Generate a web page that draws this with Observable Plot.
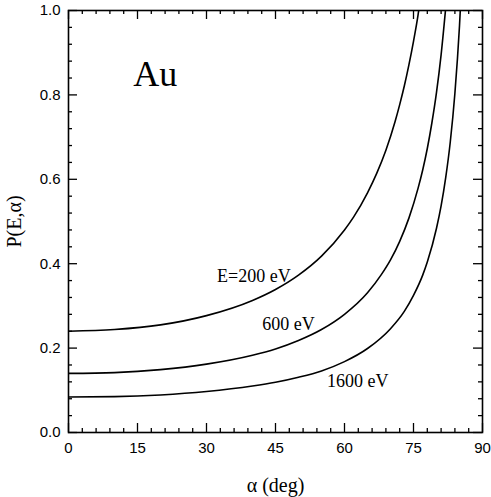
<!DOCTYPE html>
<html>
<head>
<meta charset="utf-8">
<script src="https://cdn.jsdelivr.net/npm/d3@7"></script>
<script src="https://cdn.jsdelivr.net/npm/@observablehq/plot@0.6"></script>
<style>
  html, body { margin: 0; padding: 0; background: #fff; }
  #chart svg { display: block; }
</style>
</head>
<body>
<div id="chart"></div>
<script>
// Data
const angles200 = [0, 10, 20, 30, 40, 45, 50, 55, 60, 62, 65, 67, 69, 71, 72, 73, 74, 75, 76, 76.5];
const p200 = [0.24, 0.244, 0.255, 0.277, 0.313, 0.339, 0.373, 0.418, 0.48, 0.511, 0.568, 0.614, 0.669, 0.737, 0.777, 0.821, 0.871, 0.927, 0.99, 1.03];

const angles600 = [0, 10, 20, 30, 40, 45, 50, 55, 60, 65, 68, 70, 72, 74, 76, 77, 78, 79, 80, 81, 82];
const p600 = [0.14, 0.142, 0.149, 0.162, 0.183, 0.198, 0.218, 0.244, 0.28, 0.331, 0.374, 0.409, 0.453, 0.508, 0.579, 0.622, 0.673, 0.734, 0.806, 0.895, 1.006];

const angles1600 = [0, 10, 20, 30, 40, 45, 50, 55, 60, 65, 70, 73, 75, 77, 78, 80, 81, 82, 83, 84, 85, 85.5];
const p1600 = [0.084, 0.085, 0.089, 0.097, 0.11, 0.119, 0.131, 0.146, 0.168, 0.199, 0.246, 0.287, 0.325, 0.373, 0.404, 0.484, 0.537, 0.604, 0.689, 0.804, 0.964, 1.07];

const xMajor = [0, 15, 30, 45, 60, 75, 90];
const xMinor = [3, 6, 9, 12, 18, 21, 24, 27, 33, 36, 39, 42, 48, 51, 54, 57, 63, 66, 69, 72, 78, 81, 84, 87];
const yMajor = [0, 0.2, 0.4, 0.6, 0.8, 1.0];
const yMinor = [0.04, 0.08, 0.12, 0.16, 0.24, 0.28, 0.32, 0.36, 0.44, 0.48, 0.52, 0.56, 0.64, 0.68, 0.72, 0.76, 0.84, 0.88, 0.92, 0.96];

const curveLabels = ["E=200 eV", "600 eV", "1600 eV"];
const labelAngles = [32.3, 42.1, 56.2];
const labelP = [0.356, 0.244, 0.107];

const titleText = "Au";
const titleAngle = 14.1;
const titleP = 0.822;

const series = [
  angles200.map((a, i) => ({a, p: p200[i], s: "200"})),
  angles600.map((a, i) => ({a, p: p600[i], s: "600"})),
  angles1600.map((a, i) => ({a, p: p1600[i], s: "1600"}))
].flat();

const labels = curveLabels.map((t, i) => ({t, a: labelAngles[i], p: labelP[i]}));

const sans = "'Liberation Sans', Arial, sans-serif";
const serif = "'Liberation Serif', 'Times New Roman', serif";

const W = 491, H = 497, ML = 68, MR = 9, MT = 10, MB = 65;
const innerW = W - ML - MR, innerH = H - MT - MB;
const majorLen = 9, minorLen = 4;

const tickStyle = {stroke: "black", strokeWidth: 1.3};
const xTicks = (data, len) => [
  Plot.ruleX(data, {x: d => d, insetTop: innerH - len, ...tickStyle}),
  Plot.ruleX(data, {x: d => d, insetBottom: innerH - len, ...tickStyle})
];
const yTicks = (data, len) => [
  Plot.ruleY(data, {y: d => d, insetRight: innerW - len, ...tickStyle}),
  Plot.ruleY(data, {y: d => d, insetLeft: innerW - len, ...tickStyle})
];

const chart = Plot.plot({
  width: W,
  height: H,
  marginLeft: ML,
  marginRight: MR,
  marginTop: MT,
  marginBottom: MB,
  x: {domain: [0, 90], axis: null},
  y: {domain: [0, 1], axis: null},
  style: {background: "white", color: "black"},
  marks: [
    Plot.line(series, {x: "a", y: "p", z: "s", stroke: "black", strokeWidth: 1.6, curve: "monotone-x", clip: true}),
    // inward ticks on all four sides
    ...xTicks(xMajor, majorLen),
    ...xTicks(xMinor, minorLen),
    ...yTicks(yMajor, majorLen),
    ...yTicks(yMinor, minorLen),
    // tick labels
    Plot.axisX(xMajor, {anchor: "bottom", label: null, tickSize: 0, tickPadding: 10, fontSize: 15, fontFamily: sans, tickFormat: d3.format("d")}),
    Plot.axisY(yMajor, {anchor: "left", label: null, tickSize: 0, tickPadding: 8, fontSize: 15, fontFamily: sans, tickFormat: d3.format(".1f")}),
    Plot.frame({stroke: "black", strokeWidth: 1.6}),
    // axis titles
    Plot.text(["α (deg)"], {frameAnchor: "bottom", dy: 53, lineAnchor: "middle", fontSize: 20, fontFamily: serif, fill: "black"}),
    Plot.text(["P(E,α)"], {frameAnchor: "left", dx: -54, rotate: -90, lineAnchor: "middle", textAnchor: "middle", fontSize: 20, fontFamily: serif, fill: "black"}),
    // annotations
    Plot.text(labels, {x: "a", y: "p", text: "t", textAnchor: "start", lineAnchor: "bottom", fontSize: 18, fontFamily: serif, fill: "black"}),
    Plot.text([titleText], {x: () => titleAngle, y: () => titleP, textAnchor: "start", lineAnchor: "bottom", fontSize: 36, fontFamily: serif, fill: "black"})
  ]
});

document.getElementById("chart").appendChild(chart);
</script>
</body>
</html>
